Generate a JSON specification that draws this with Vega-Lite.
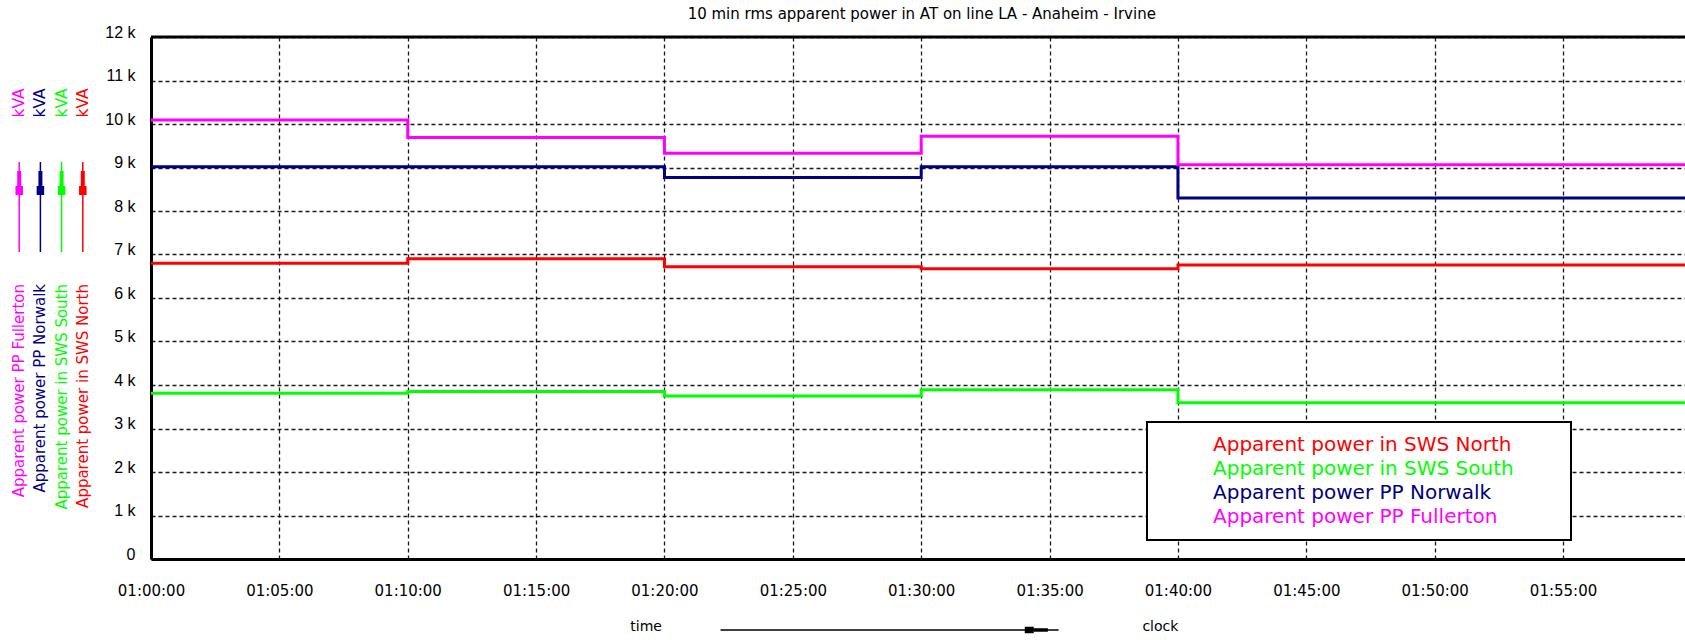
{
  "$schema": "https://vega.github.io/schema/vega-lite/v6.json",
  "background": "white",
  "padding": {"left": 5, "top": 7, "right": 0, "bottom": 0},
  "title": {"text": "10 min rms apparent power in AT on line LA - Anaheim - Irvine", "font": "DejaVu Sans", "fontSize": 15, "fontWeight": "normal", "color": "#000", "anchor": "middle", "dx": 76, "offset": 2},
  "datasets": {
    "power": [
      {"series": "Apparent power in SWS North", "time": "2024-01-01T01:00:00Z", "value": 6800},
      {"series": "Apparent power in SWS North", "time": "2024-01-01T01:10:00Z", "value": 6900},
      {"series": "Apparent power in SWS North", "time": "2024-01-01T01:20:00Z", "value": 6720},
      {"series": "Apparent power in SWS North", "time": "2024-01-01T01:30:00Z", "value": 6670},
      {"series": "Apparent power in SWS North", "time": "2024-01-01T01:40:00Z", "value": 6760},
      {"series": "Apparent power in SWS North", "time": "2024-01-01T01:50:00Z", "value": 6760},
      {"series": "Apparent power in SWS North", "time": "2024-01-01T02:00:00Z", "value": 6760},
      {"series": "Apparent power in SWS South", "time": "2024-01-01T01:00:00Z", "value": 3810},
      {"series": "Apparent power in SWS South", "time": "2024-01-01T01:10:00Z", "value": 3850},
      {"series": "Apparent power in SWS South", "time": "2024-01-01T01:20:00Z", "value": 3750},
      {"series": "Apparent power in SWS South", "time": "2024-01-01T01:30:00Z", "value": 3890},
      {"series": "Apparent power in SWS South", "time": "2024-01-01T01:40:00Z", "value": 3590},
      {"series": "Apparent power in SWS South", "time": "2024-01-01T01:50:00Z", "value": 3590},
      {"series": "Apparent power in SWS South", "time": "2024-01-01T02:00:00Z", "value": 3590},
      {"series": "Apparent power PP Norwalk", "time": "2024-01-01T01:00:00Z", "value": 9020},
      {"series": "Apparent power PP Norwalk", "time": "2024-01-01T01:10:00Z", "value": 9020},
      {"series": "Apparent power PP Norwalk", "time": "2024-01-01T01:20:00Z", "value": 8770},
      {"series": "Apparent power PP Norwalk", "time": "2024-01-01T01:30:00Z", "value": 9020},
      {"series": "Apparent power PP Norwalk", "time": "2024-01-01T01:40:00Z", "value": 8300},
      {"series": "Apparent power PP Norwalk", "time": "2024-01-01T01:50:00Z", "value": 8300},
      {"series": "Apparent power PP Norwalk", "time": "2024-01-01T02:00:00Z", "value": 8300},
      {"series": "Apparent power PP Fullerton", "time": "2024-01-01T01:00:00Z", "value": 10090},
      {"series": "Apparent power PP Fullerton", "time": "2024-01-01T01:10:00Z", "value": 9690},
      {"series": "Apparent power PP Fullerton", "time": "2024-01-01T01:20:00Z", "value": 9330},
      {"series": "Apparent power PP Fullerton", "time": "2024-01-01T01:30:00Z", "value": 9720},
      {"series": "Apparent power PP Fullerton", "time": "2024-01-01T01:40:00Z", "value": 9065},
      {"series": "Apparent power PP Fullerton", "time": "2024-01-01T01:50:00Z", "value": 9065},
      {"series": "Apparent power PP Fullerton", "time": "2024-01-01T02:00:00Z", "value": 9065}
    ],
    "series": [
      {"series": "Apparent power PP Fullerton"},
      {"series": "Apparent power PP Norwalk"},
      {"series": "Apparent power in SWS South"},
      {"series": "Apparent power in SWS North"}
    ]
  },
  "spacing": 7,
  "resolve": {"scale": {"color": "independent"}, "legend": {"color": "independent"}},
  "config": {"view": {"stroke": null}},
  "hconcat": [
    {
      "width": 92,
      "height": 522,
      "data": {"name": "series"},
      "encoding": {
        "x": {"field": "series", "type": "nominal", "axis": null, "scale": {"type": "point", "padding": 0.67, "domain": ["Apparent power PP Fullerton", "Apparent power PP Norwalk", "Apparent power in SWS South", "Apparent power in SWS North"]}},
        "color": {"field": "series", "type": "nominal", "legend": null, "scale": {"domain": ["Apparent power in SWS North", "Apparent power in SWS South", "Apparent power PP Norwalk", "Apparent power PP Fullerton"], "range": ["#ff0000", "#00ff00", "#000080", "#ff00ff"]}}
      },
      "layer": [
        {
          "mark": {"type": "text", "text": "kVA", "angle": 270, "font": "DejaVu Sans", "fontSize": 15.5, "align": "center", "baseline": "middle"},
          "encoding": {"y": {"datum": 10483, "type": "quantitative", "scale": {"domain": [0, 12000]}, "axis": null}}
        },
        {
          "mark": {"type": "rule", "strokeWidth": 1.5},
          "encoding": {"y": {"datum": 9126, "type": "quantitative"}, "y2": {"datum": 7057}}
        },
        {
          "mark": {"type": "rule", "strokeWidth": 4},
          "encoding": {"y": {"datum": 8920, "type": "quantitative"}, "y2": {"datum": 8368}}
        },
        {
          "mark": {"type": "rule", "strokeWidth": 7.5},
          "encoding": {"y": {"datum": 8575, "type": "quantitative"}, "y2": {"datum": 8368}}
        },
        {
          "mark": {"type": "text", "angle": 270, "align": "right", "baseline": "middle", "font": "DejaVu Sans", "fontSize": 15},
          "encoding": {"y": {"datum": 6322, "type": "quantitative"}, "text": {"field": "series"}}
        }
      ]
    },
    {
      "width": 1534,
      "height": 522,
      "layer": [
        {
          "data": {"name": "power"},
          "mark": {"type": "line", "interpolate": "step-after", "strokeWidth": 3, "clip": true},
          "encoding": {
            "x": {
              "field": "time", "type": "temporal",
              "scale": {"type": "utc", "domain": [1704070800000, 1704074385000]},
              "axis": {"labelExpr": "utcFormat(datum.value, '%H:%M:%S')", "values": [1704070800000, 1704071100000, 1704071400000, 1704071700000, 1704072000000, 1704072300000, 1704072600000, 1704072900000, 1704073200000, 1704073500000, 1704073800000, 1704074100000], "grid": true, "gridDash": [4, 3], "gridColor": "#000", "gridWidth": 1.3, "gridOpacity": 0.9, "ticks": false, "domain": true, "domainColor": "#000", "domainWidth": 3, "labelFont": "DejaVu Sans", "labelFontSize": 15, "labelColor": "#000", "labelPadding": 24, "title": null, "labelFlush": false, "labelOverlap": false}
            },
            "y": {
              "field": "value", "type": "quantitative",
              "scale": {"domain": [0, 12000]},
              "axis": {"values": [0, 1000, 2000, 3000, 4000, 5000, 6000, 7000, 8000, 9000, 10000, 11000, 12000], "labelExpr": "datum.value == 0 ? '0' : (datum.value / 1000) + ' k'", "grid": true, "gridDash": [4, 3], "gridColor": "#000", "gridWidth": 1.3, "gridOpacity": 0.9, "ticks": false, "domain": true, "domainColor": "#000", "domainWidth": 3, "labelFont": "Liberation Sans", "labelFontSize": 16, "labelColor": "#000", "labelBaseline": "alphabetic", "labelPadding": 16, "title": null, "minExtent": 47, "maxExtent": 47}
            },
            "color": {
              "field": "series", "type": "nominal",
              "scale": {"domain": ["Apparent power in SWS North", "Apparent power in SWS South", "Apparent power PP Norwalk", "Apparent power PP Fullerton"], "range": ["#ff0000", "#00ff00", "#000080", "#ff00ff"]},
              "legend": {
                "orient": "none", "legendX": 996, "legendY": 385, "title": null, "direction": "vertical",
                "fillColor": "white", "strokeColor": "black", "padding": 13, "rowPadding": 4,
                "symbolType": "circle", "symbolSize": 1, "symbolOpacity": 0, "symbolStrokeWidth": 0,
                "labelOffset": 33, "labelFont": "DejaVu Sans", "labelFontSize": 20, "labelLimit": 1200,
                "encode": {
                  "labels": {"update": {
                    "text": {"signal": "datum.label + '\u2800\u2800\u2800'"},
                    "fill": {"signal": "datum.value == 'Apparent power in SWS North' ? '#ff0000' : datum.value == 'Apparent power in SWS South' ? '#00ff00' : datum.value == 'Apparent power PP Norwalk' ? '#000080' : '#ff00ff'"}
                  }},
                  "legend": {"update": {"strokeWidth": {"value": 2}}}
                }
              }
            }
          }
        },
        {
          "data": {"values": [{}]},
          "mark": {"type": "rule", "color": "#000", "strokeWidth": 3},
          "encoding": {"y": {"datum": 12000, "type": "quantitative"}}
        },
        {
          "data": {"values": [{}]},
          "mark": {"type": "text", "text": "time", "font": "DejaVu Sans", "fontSize": 14, "color": "#000", "align": "center", "baseline": "middle", "clip": false},
          "encoding": {"x": {"datum": 1704071957000, "type": "temporal"}, "y": {"datum": -1563, "type": "quantitative"}}
        },
        {
          "data": {"values": [{}]},
          "mark": {"type": "text", "text": "clock", "font": "DejaVu Sans", "fontSize": 14, "color": "#000", "align": "center", "baseline": "middle", "clip": false},
          "encoding": {"x": {"datum": 1704073159000, "type": "temporal"}, "y": {"datum": -1563, "type": "quantitative"}}
        },
        {
          "data": {"values": [{}]},
          "mark": {"type": "rule", "color": "#000", "strokeWidth": 1.5, "clip": false},
          "encoding": {"x": {"datum": 1704072131000, "type": "temporal"}, "x2": {"datum": 1704072921000}, "y": {"datum": -1632, "type": "quantitative"}}
        },
        {
          "data": {"values": [{}]},
          "mark": {"type": "rule", "color": "#000", "strokeWidth": 3.5, "clip": false},
          "encoding": {"x": {"datum": 1704072863000, "type": "temporal"}, "x2": {"datum": 1704072896000}, "y": {"datum": -1632, "type": "quantitative"}}
        },
        {
          "data": {"values": [{}]},
          "mark": {"type": "rule", "color": "#000", "strokeWidth": 6.5, "clip": false},
          "encoding": {"x": {"datum": 1704072842000, "type": "temporal"}, "x2": {"datum": 1704072863000}, "y": {"datum": -1632, "type": "quantitative"}}
        }
      ]
    }
  ]
}
